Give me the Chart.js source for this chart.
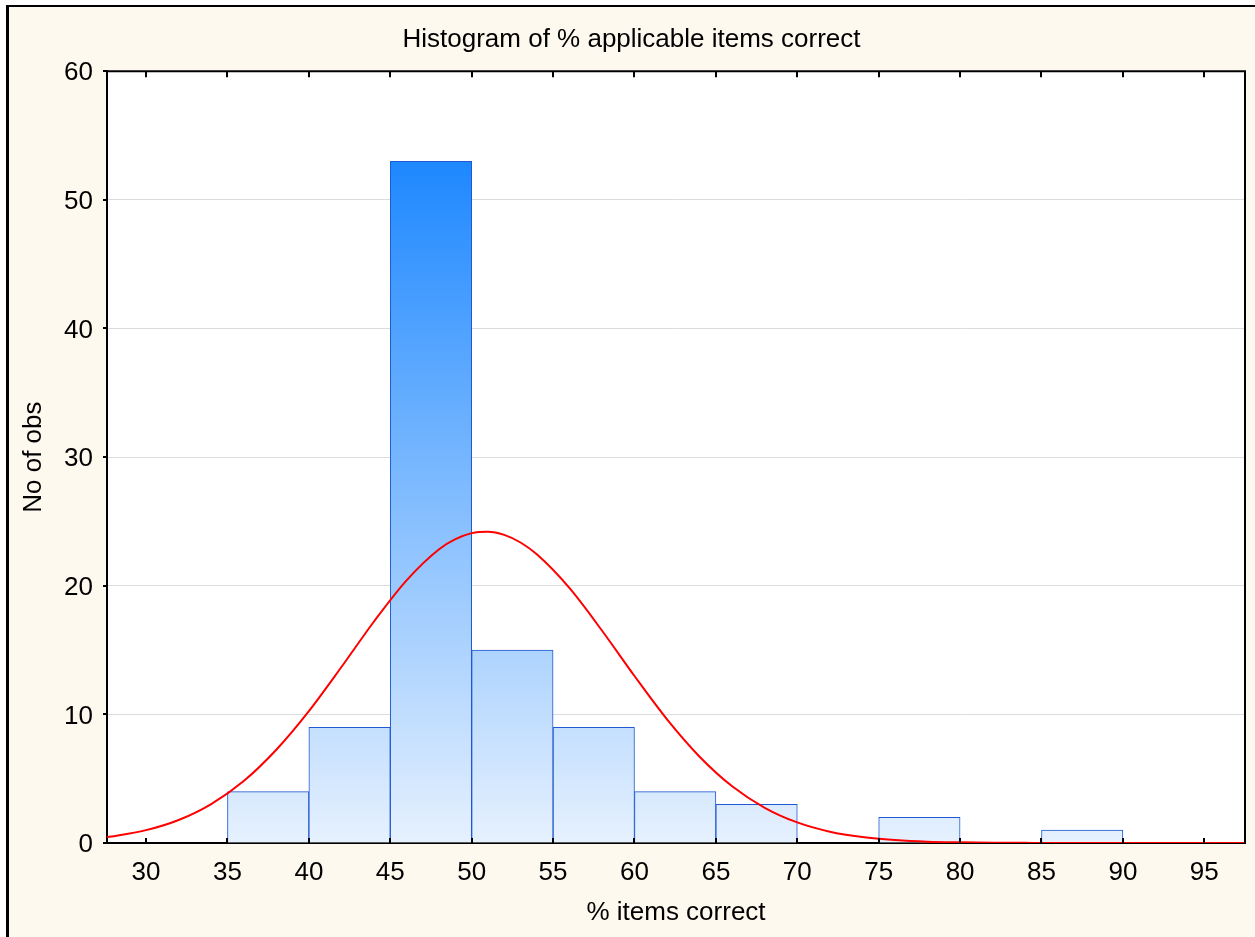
<!DOCTYPE html>
<html>
<head>
<meta charset="utf-8">
<script src="https://cdn.jsdelivr.net/npm/chart.js@4.4.1/dist/chart.umd.min.js"></script>
<style>
  html, body { margin: 0; padding: 0; background: #ffffff; }
  #wrap { width: 1255px; height: 937px; position: relative; }
</style>
</head>
<body>
<div id="wrap"><canvas id="c" width="1255" height="937"></canvas></div>
<script>
// ---- data ----
const binStarts = [35, 40, 45, 50, 55, 60, 65, 70, 75, 80, 85];
const binCounts = [4, 9, 53, 15, 9, 4, 3, 0, 2, 0, 1];
const binWidth = 5;
const xTickValues = [30, 35, 40, 45, 50, 55, 60, 65, 70, 75, 80, 85, 90, 95];
const yTickValues = [0, 10, 20, 30, 40, 50, 60];
// fitted normal curve
const curveX = [27.6, 28, 30, 32, 34, 36, 38, 40, 42, 44, 46, 48, 49, 50, 51, 52, 53, 54, 56, 58, 60, 62, 64, 66, 68, 70, 72, 74, 76, 78, 80, 82, 84, 86, 90, 97.5];
const curveY = [0.46, 0.53, 1.00, 1.79, 3.03, 4.82, 7.25, 10.25, 13.68, 17.22, 20.42, 22.84, 23.62, 24.09, 24.20, 23.95, 23.36, 22.44, 19.83, 16.52, 12.98, 9.61, 6.71, 4.41, 2.74, 1.60, 0.88, 0.46, 0.23, 0.10, 0.05, 0.02, 0.01, 0, 0, 0];
const titleText = 'Histogram of % applicable items correct';
const xTitle = '% items correct';
const yTitle = 'No of obs';

Chart.defaults.font.family = "'Liberation Sans', Arial, Helvetica, sans-serif";
Chart.defaults.font.size = 26;
Chart.defaults.color = '#000000';

const barData = binStarts.map((s, i) => ({ x: s + binWidth / 2, y: binCounts[i] === 0 ? null : binCounts[i] }));
const curveData = curveX.map((x, i) => ({ x: x, y: curveY[i] }));
const gradTop = Math.max(...binCounts);

const framePlugin = {
  id: 'frame',
  beforeDraw(chart) {
    const ctx = chart.ctx;
    const W = chart.width, H = chart.height;
    ctx.save();
    ctx.fillStyle = '#ffffff';
    ctx.fillRect(0, 0, W, H);
    ctx.fillStyle = '#FEF9EE';
    ctx.fillRect(9, 7, W - 9, H - 7);
    ctx.fillStyle = '#000000';
    ctx.fillRect(6, 5, 3, H - 5);
    ctx.fillRect(6, 5, W - 6, 2);
    const a = chart.chartArea;
    ctx.fillStyle = '#ffffff';
    ctx.fillRect(a.left, a.top, a.right - a.left, a.bottom - a.top);
    ctx.restore();
  },
  afterDraw(chart) {
    const ctx = chart.ctx;
    const a = chart.chartArea;
    const xs = chart.scales.x, ys = chart.scales.y;
    ctx.save();
    ctx.strokeStyle = '#000000';
    ctx.lineWidth = 2;
    ctx.beginPath();
    ctx.moveTo(a.left - 1, a.top);
    ctx.lineTo(a.right, a.top);
    ctx.moveTo(a.right, a.top - 1);
    ctx.lineTo(a.right, a.bottom + 1);
    ctx.stroke();
    ctx.lineWidth = 2;
    ctx.beginPath();
    xTickValues.forEach(v => {
      const px = Math.round(xs.getPixelForValue(v));
      ctx.moveTo(px, a.top);
      ctx.lineTo(px, a.top + 6);
      ctx.moveTo(px, a.bottom);
      ctx.lineTo(px, a.bottom - 5);
    });
    yTickValues.forEach(v => {
      const py = Math.round(ys.getPixelForValue(v));
      ctx.moveTo(a.left, py);
      ctx.lineTo(a.left - 4, py);
    });
    ctx.stroke();
    ctx.restore();
  }
};

new Chart(document.getElementById('c'), {
  type: 'bar',
  data: {
    datasets: [
      {
        type: 'line',
        label: 'Normal fit',
        data: curveData,
        borderColor: '#FF0000',
        borderWidth: 2,
        pointRadius: 0,
        fill: false,
        cubicInterpolationMode: 'monotone',
        order: 0
      },
      {
        type: 'bar',
        label: yTitle,
        data: barData,
        barPercentage: 1.0,
        categoryPercentage: 1.0,
        borderWidth: 1,
        borderSkipped: 'start',
        borderColor: '#1F58D2',
        backgroundColor: (ctx) => {
          const chart = ctx.chart;
          const area = chart.chartArea;
          if (!area) return '#BFDCFF';
          const ys = chart.scales.y;
          const g = chart.ctx.createLinearGradient(0, ys.getPixelForValue(gradTop), 0, ys.getPixelForValue(0));
          g.addColorStop(0, '#1E88FF');
          g.addColorStop(1, '#E6F1FE');
          return g;
        },
        order: 1
      }
    ]
  },
  options: {
    responsive: false,
    animation: false,
    events: [],
    layout: { padding: { left: 18, right: 10, top: 0, bottom: 0 } },
    plugins: {
      legend: { display: false },
      tooltip: { enabled: false },
      title: {
        display: true,
        text: titleText,
        color: '#000000',
        font: { size: 26, weight: 'normal' },
        padding: { top: 24, bottom: 16 }
      }
    },
    scales: {
      x: {
        type: 'linear',
        offset: false,
        min: 27.6,
        max: 97.5,
        afterBuildTicks: (s) => { s.ticks = xTickValues.map(v => ({ value: v })); },
        afterFit: (s) => { s.height = 94; },
        ticks: { padding: 14, autoSkip: false, maxRotation: 0, color: '#000000', font: { size: 26 } },
        grid: { display: true, offset: false, drawOnChartArea: false, drawTicks: false },
        border: { display: true, color: '#000000', width: 2 },
        title: { display: true, text: xTitle, color: '#000000', font: { size: 26 }, padding: { top: 0, bottom: 9 } }
      },
      y: {
        min: 0,
        max: 60,
        afterBuildTicks: (s) => { s.ticks = yTickValues.map(v => ({ value: v })); },
        afterFit: (s) => { s.width = 89; },
        ticks: { padding: 14, labelOffset: 2, color: '#000000', font: { size: 26 } },
        grid: {
          drawTicks: false,
          lineWidth: 1,
          color: (c) => (c.tick && (c.tick.value === 0 || c.tick.value === 60)) ? 'rgba(0,0,0,0)' : '#DCDCDC'
        },
        border: { display: true, color: '#000000', width: 2 },
        title: { display: true, text: yTitle, color: '#000000', font: { size: 26 }, padding: { top: 0, bottom: 0 } }
      }
    }
  },
  plugins: [framePlugin]
});
</script>
</body>
</html>
